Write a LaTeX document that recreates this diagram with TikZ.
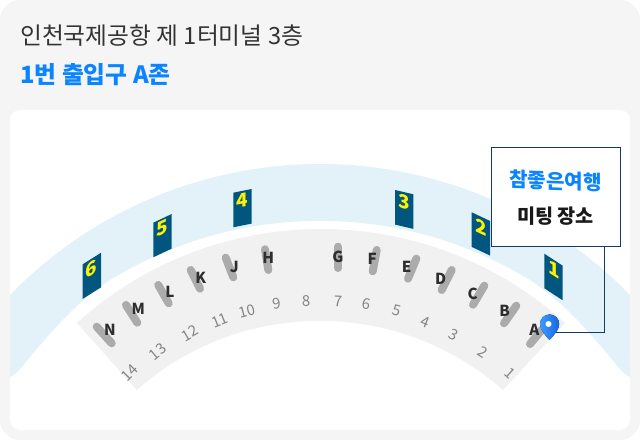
\documentclass[tikz,border=0pt]{standalone}
\usepackage{fontspec}
\setmainfont{Noto Sans CJK KR}
\usetikzlibrary{arrows.meta}
\definecolor{pagegrey}{HTML}{F5F5F5}
\definecolor{bandblue}{HTML}{E2F2F8}
\definecolor{bandgrey}{HTML}{F1F1F1}
\definecolor{flagblue}{HTML}{01567F}
\definecolor{flagyellow}{HTML}{FFF200}
\definecolor{barsgrey}{HTML}{ABABAB}
\definecolor{boxnavy}{HTML}{123A63}
\definecolor{titleblue}{HTML}{0A84FF}
\definecolor{pinlight}{HTML}{3D9BFF}
\definecolor{pindark}{HTML}{1565E0}
\tikzset{
  flagnum/.style={text=flagyellow,font=\fontsize{13.5}{14}\selectfont\bfseries,inner sep=0pt},
  gatebar/.style={line width=2mm,line cap=round,barsgrey},
  gateletter/.style={text=black!82,font=\fontsize{10.8}{11}\selectfont\bfseries,inner sep=0pt},
  doornum/.style={text=black!48,font=\fontsize{10.6}{11}\selectfont,inner sep=0pt},
  meetbox/.style={draw=boxnavy,line width=0.25mm,fill=white,minimum width=32.35mm,minimum height=24.85mm,inner sep=0pt},
}
\begin{document}
\begin{tikzpicture}[x=0.25mm,y=0.25mm]
    \useasboundingbox (0,0) rectangle (640,440);
    \fill[white]     (0,0) rectangle (640,440);
    \fill[pagegrey,rounded corners=5mm] (0,0) rectangle (640,440);
    \fill[white,rounded corners=2.5mm]  (10,10) rectangle (630,330);
    % titles
    \node[anchor=west,inner sep=0pt,text=black!80,font=\fontsize{16.9}{17}\selectfont] (title) at (20,404) {인천국제공항 제 1터미널 3층};
    \node[anchor=west,inner sep=0pt,text=titleblue,font=\fontsize{16.9}{17}\selectfont\bfseries] (subtitle) at (20,365) {1번 출입구 A존};
    % blue band
    \begin{scope}
        \clip (10,10) rectangle (630,330);
        \fill[bandblue] (320,-156) ++(135.85:432) arc[start angle=135.85,end angle=44.15,radius=432]
            -- (630,63) .. controls (626,65) and (622,68) .. (615,77)
            .. controls (590,107) and (565,137) .. (530,160)
            arc[start angle=58.5,end angle=121.5,radius=402]
            .. controls (75,137) and (50,107) .. (25,77)
            .. controls (18,68) and (14,65) .. (10,63) -- cycle;
    \end{scope}
    % grey band
    \fill[bandgrey] (321,-153) ++(132.1:364) arc[start angle=132.1,end angle=47.9,radius=364]
        -- (503,50) arc[start angle=48.6,end angle=131.4,radius=277] -- cycle;
    % flags
    \foreach \xl/\yl/\yr/\lab/\xn/\yn/\sl in {
        82.7/175.7/187.3/6/91.7/171/0.63,
        153.3/217.3/226/5/162/212.3/0.47,
        233.3/247.3/251/4/242/239.3/0.2,
        395/250/245.7/3/404.3/238/-0.23,
        471.7/227.7/219/2/481/212.3/-0.47,
        544.3/186.3/174.3/1/554/170.7/-0.65} {
        \fill[flagblue] (\xl,\yl) -- (\xl+18.4,\yr) -- (\xl+18.4,\yr-34.6) -- (\xl,\yl-34.6) -- cycle;
        \node[flagnum,yslant=\sl] (flag\lab) at (\xn,\yn) {\lab};
    }
    % gates
    \foreach \xa/\ya/\xb/\yb in {
        96.7/113.3/111.7/96.7,   126/135/137.3/117.3,
        158.3/155/168.7/136.7,   190.7/170/200/151.3,
        225.7/182.3/233.3/162.7, 265/190.7/268.3/170,
        338/193.3/338/172,       376.7/190/372.7/168.7,
        416.3/181.3/408/161.3,   451.7/170/441.7/150,
        484.3/154.3/473/135.3,   516.3/134.3/504/116.7,
        541.7/110/530/96} {
        \draw[gatebar] (\xa,\ya) -- (\xb,\yb);
    }
    \foreach \lab/\xn/\yn in {
        N/110/110,     M/138.3/131,   L/170/147.7,   K/200.7/161.7,
        J/234.3/173.3, H/268.3/181.7, G/338/183.3,   F/372.3/180.7,
        E/406.7/172.7, D/440.7/160.7, C/472.7/146,   B/504.7/129.3,
        A/534.3/110} {
        \node[gateletter] (gate\lab) at (\xn,\yn) {\lab};
    }
    \foreach \lab/\xn/\yn/\rot in {
        14/130/67.3/45,    13/157.7/88.3/40,  12/190/106.7/30,
        11/220/119.3/22,   10/247.3/129/15,   9/277.3/136/8,
        8/306/139.3/2,     7/338/139/-3,      6/366/136/-10,
        5/396.7/129/-15,   4/425.3/118.3/-22, 3/454/105/-28,
        2/482.7/87.7/-33,  1/510/66.7/-42} {
        \node[doornum,rotate=\rot] (door\lab) at (\xn,\yn) {\lab};
    }
    % meeting box
    \node[meetbox] (box) at (556,243) {};
    \node[inner sep=0pt,text=titleblue,yslant=-0.04,font=\fontsize{14.3}{15}\selectfont\bfseries] (brand) at (555.5,259) {참좋은여행};
    \node[inner sep=0pt,text=black!90,font=\fontsize{14}{15}\selectfont\bfseries] (spot) at (555.5,224) {미팅 장소};
    \coordinate (drop) at (604.3,193.3);
    \coordinate (pinmark) at (552,107.7);
    \draw[boxnavy,line width=0.25mm] (drop) |- (pinmark);
    % pin
    \fill[left color=pinlight,right color=pindark]
        (549.5,100) .. controls (544,106) and (540,111) .. (540,116)
        arc[start angle=180,end angle=0,radius=9.6]
        .. controls (559.2,111) and (555,106) .. (549.5,100) -- cycle;
    \fill[white] (548.5,116) circle [radius=3];
\end{tikzpicture}
\end{document}
